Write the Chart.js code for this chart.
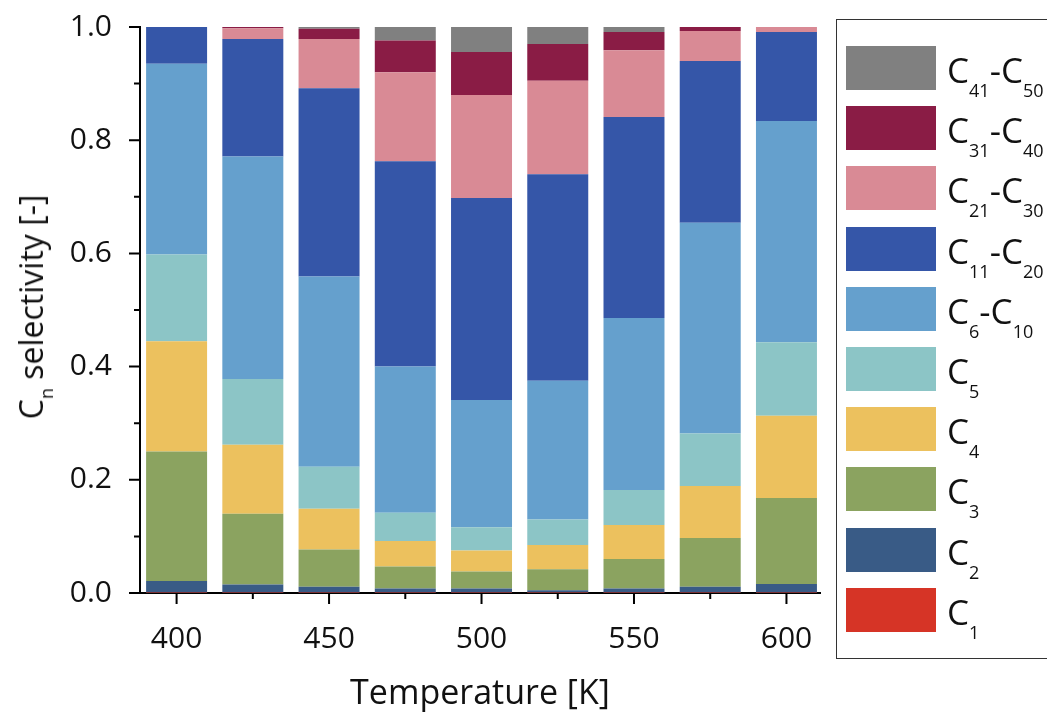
<!DOCTYPE html>
<html>
<head>
<meta charset="utf-8">
<script src="https://cdn.jsdelivr.net/npm/chart.js@4.4.1/dist/chart.umd.min.js"></script>
<style>
    body { margin: 0; background: #fff; font-family: 'Open Sans', sans-serif; }
    #wrap { position: relative; width: 1047px; height: 717px; overflow: hidden; }
    #chart { position: absolute; left: 0; top: 0; }
    #yTitle {
        position: absolute; left: 31px; top: 307px;
        transform: translate(-50%, -50%) rotate(-90deg);
        font-size: 32px; white-space: nowrap; color: #111; line-height: 40px;
    }
    #yTitle sub { font-size: 18px; vertical-align: -10px; line-height: 0; }
    #legend {
        position: absolute; left: 836px; top: 19px; width: 240px; height: 640px;
        border: 1.5px solid #333; box-sizing: border-box;
    }
    .item { position: absolute; left: 9px; height: 44px; }
    .swatch { position: absolute; left: 0; top: 0; width: 90px; height: 44px; }
    .lbl {
        position: absolute; left: 101px; top: 2px; font-size: 35px; line-height: 44px;
        white-space: nowrap; color: #111;
    }
    .lbl sub { font-size: 18px; vertical-align: -14px; line-height: 0; }
</style>
</head>
<body>
<div id="wrap">
    <canvas id="chart" width="1047" height="717"></canvas>
    <div id="yTitle">C<sub>n</sub> selectivity [-]</div>
    <div id="legend"></div>
</div>
<script>
/* Cn selectivity vs temperature - stacked bars */

const temperatures = [400, 425, 450, 475, 500, 525, 550, 575, 600];

const c1     = [0.001, 0.001, 0.001, 0.001, 0.001, 0.001, 0.001, 0.001, 0.001];
const c2     = [0.020, 0.014, 0.010, 0.007, 0.007, 0.004, 0.007, 0.010, 0.015];
const c3     = [0.229, 0.125, 0.066, 0.039, 0.030, 0.037, 0.052, 0.086, 0.152];
const c4     = [0.195, 0.122, 0.072, 0.045, 0.037, 0.043, 0.060, 0.092, 0.145];
const c5     = [0.153, 0.116, 0.074, 0.050, 0.041, 0.045, 0.062, 0.093, 0.130];
const c6_10  = [0.337, 0.393, 0.336, 0.258, 0.225, 0.245, 0.304, 0.372, 0.391];
const c11_20 = [0.065, 0.208, 0.333, 0.363, 0.357, 0.365, 0.355, 0.286, 0.157];
const c21_30 = [0.000, 0.019, 0.087, 0.157, 0.182, 0.165, 0.118, 0.053, 0.009];
const c31_40 = [0.000, 0.002, 0.018, 0.056, 0.076, 0.065, 0.032, 0.007, 0.000];
const c41_50 = [0.000, 0.000, 0.003, 0.024, 0.044, 0.030, 0.009, 0.000, 0.000];

const seriesNames = ['C1', 'C2', 'C3', 'C4', 'C5', 'C6-C10', 'C11-C20', 'C21-C30', 'C31-C40', 'C41-C50'];
const seriesData = [c1, c2, c3, c4, c5, c6_10, c11_20, c21_30, c31_40, c41_50];
const seriesColors = ['#d63426', '#395b86', '#8ba360', '#ecc15e', '#8cc5c6',
                      '#65a0cd', '#3556a8', '#d98a95', '#8a1c45', '#808080'];

const FONT = "'Open Sans', sans-serif";

// outward major/minor ticks on both axes
const axisTicks = {
    id: 'axisTicks',
    afterDraw(chart) {
        const { ctx, chartArea: a, scales: { x, y } } = chart;
        ctx.save();
        ctx.strokeStyle = '#000';
        ctx.lineWidth = 2;
        ctx.beginPath();
        x.ticks.forEach((t, i) => {
            const px = x.getPixelForValue(t.value);
            ctx.moveTo(px, a.bottom); ctx.lineTo(px, a.bottom + 11);
            if (i < x.ticks.length - 1) {
                const mx = x.getPixelForValue((t.value + x.ticks[i + 1].value) / 2);
                ctx.moveTo(mx, a.bottom); ctx.lineTo(mx, a.bottom + 6);
            }
        });
        y.ticks.forEach((t, i) => {
            const py = y.getPixelForValue(t.value);
            ctx.moveTo(a.left, py); ctx.lineTo(a.left - 11, py);
            if (i < y.ticks.length - 1) {
                const my = y.getPixelForValue((t.value + y.ticks[i + 1].value) / 2);
                ctx.moveTo(a.left, my); ctx.lineTo(a.left - 6, my);
            }
        });
        ctx.stroke();
        ctx.restore();
    }
};

const datasets = seriesNames.map((name, i) => ({
    label: name,
    data: temperatures.map((t, j) => ({ x: t, y: seriesData[i][j] })),
    backgroundColor: seriesColors[i],
    borderWidth: 0,
    barPercentage: 0.8,
    categoryPercentage: 1.0,
}));

new Chart(document.getElementById('chart').getContext('2d'), {
    type: 'bar',
    data: { datasets: datasets },
    options: {
        responsive: false,
        animation: false,
        layout: { padding: { top: 27, right: 227, left: 0, bottom: 0 } },
        scales: {
            x: {
                type: 'linear',
                stacked: true,
                min: 388,
                max: 611,
                offset: false,
                grid: { display: false },
                border: { display: true, color: '#000', width: 2 },
                ticks: {
                    stepSize: 50,
                    includeBounds: false,
                    color: '#111',
                    padding: 20,
                    maxRotation: 0,
                    font: { family: FONT, size: 30 },
                },
                title: {
                    display: true,
                    text: 'Temperature [K]',
                    color: '#111',
                    font: { family: FONT, size: 34 },
                    padding: { top: 0, bottom: 2 },
                },
                afterFit: s => { s.height = 124; s.paddingLeft = 0; s.paddingRight = 0; },
            },
            y: {
                stacked: true,
                min: 0,
                max: 1,
                grid: { display: false },
                border: { display: true, color: '#000', width: 2 },
                ticks: {
                    stepSize: 0.2,
                    color: '#111',
                    padding: 20,
                    font: { family: FONT, size: 30 },
                    callback: v => v.toFixed(1),
                },
                afterFit: s => { s.width = 140; s.paddingTop = 0; s.paddingBottom = 0; },
            }
        },
        plugins: {
            legend: { display: false },
            tooltip: { enabled: false },
        }
    },
    plugins: [axisTicks]
});

// legend on the right, top entry is the top of the stack
const legendBox = document.getElementById('legend');
seriesNames.slice().reverse().forEach((name, i) => {
    const idx = seriesNames.length - 1 - i;
    const item = document.createElement('div');
    item.className = 'item';
    item.style.top = (26 + i * 60.2) + 'px';
    item.innerHTML = '<div class="swatch" style="background:' + seriesColors[idx] + '"></div>' +
        '<div class="lbl">' + name.replace(/C(\d+)/g, 'C<sub>$1</sub>') + '</div>';
    legendBox.appendChild(item);
});
</script>
</body>
</html>
